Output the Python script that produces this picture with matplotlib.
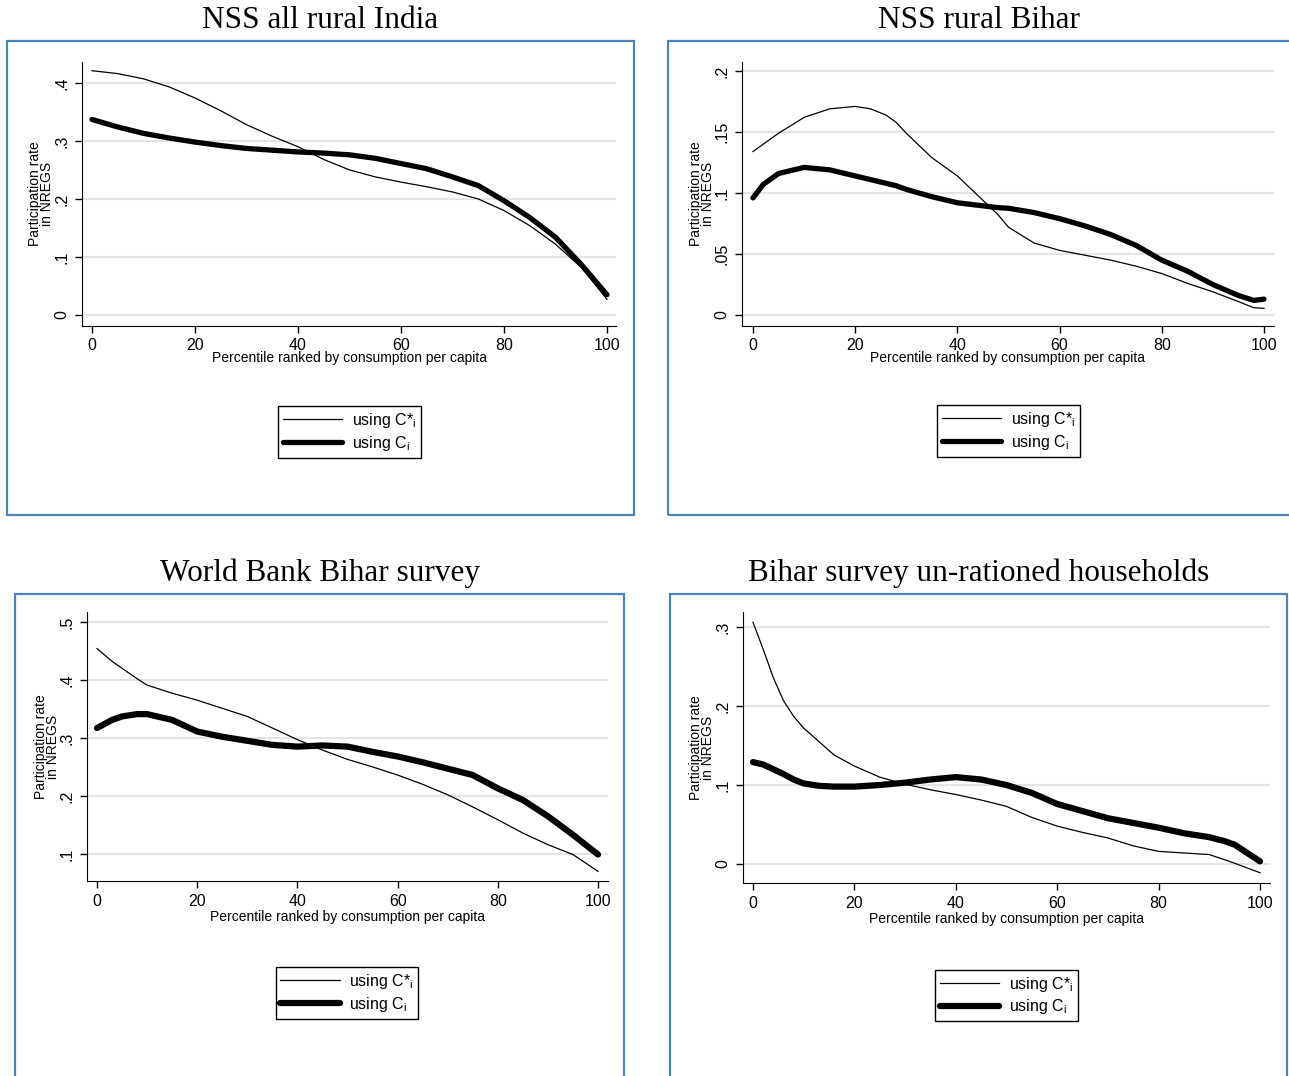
import matplotlib.pyplot as plt
from matplotlib.patches import Rectangle

# percentile grid and participation rates
pct_nss = [0, 5, 10, 15, 20, 25, 30, 35, 40, 45, 50, 55, 60, 65, 70, 75, 80, 85, 90, 95, 100]
nss_star = [0.421, 0.416, 0.407, 0.393, 0.374, 0.352, 0.328, 0.308, 0.290, 0.268, 0.250,
            0.238, 0.229, 0.221, 0.212, 0.200, 0.180, 0.154, 0.122, 0.082, 0.027]
nss_c = [0.337, 0.324, 0.313, 0.305, 0.298, 0.292, 0.287, 0.284, 0.281, 0.279, 0.276,
         0.270, 0.261, 0.252, 0.238, 0.223, 0.197, 0.168, 0.134, 0.087, 0.035]

pct_bihar = [0, 2, 5, 10, 15, 20, 23, 26, 28, 30, 35, 40, 44, 48, 50, 55, 60, 65, 70, 75,
             80, 85, 90, 95, 98, 100]
bihar_star = [0.134, 0.140, 0.149, 0.162, 0.169, 0.171, 0.169, 0.164, 0.158, 0.149, 0.129,
              0.114, 0.098, 0.082, 0.072, 0.059, 0.053, 0.049, 0.045, 0.040, 0.034, 0.026,
              0.019, 0.011, 0.006, 0.0055]
bihar_c = [0.096, 0.107, 0.116, 0.121, 0.119, 0.114, 0.111, 0.108, 0.106, 0.103, 0.097,
           0.092, 0.090, 0.088, 0.0875, 0.084, 0.079, 0.073, 0.066, 0.057, 0.045, 0.036,
           0.025, 0.016, 0.012, 0.013]

pct_wb = [0, 3, 5, 8, 10, 15, 20, 25, 30, 35, 40, 45, 50, 55, 60, 65, 70, 75, 80, 85, 90, 95, 100]
wb_star = [0.454, 0.432, 0.420, 0.402, 0.391, 0.377, 0.365, 0.351, 0.337, 0.317, 0.297,
           0.279, 0.263, 0.250, 0.236, 0.220, 0.202, 0.181, 0.159, 0.136, 0.116, 0.099, 0.070]
wb_c = [0.317, 0.331, 0.337, 0.341, 0.341, 0.331, 0.311, 0.302, 0.295, 0.288, 0.285,
        0.287, 0.285, 0.276, 0.268, 0.258, 0.247, 0.236, 0.213, 0.193, 0.165, 0.133, 0.099]

pct_unr = [0, 2, 4, 6, 8, 10, 13, 16, 20, 25, 30, 35, 40, 45, 50, 55, 60, 65, 70, 75, 80,
           85, 90, 93, 95, 100]
unr_star = [0.306, 0.272, 0.236, 0.207, 0.187, 0.172, 0.155, 0.138, 0.124, 0.110, 0.101,
            0.094, 0.088, 0.081, 0.073, 0.059, 0.048, 0.040, 0.033, 0.023, 0.016, 0.014,
            0.012, 0.0055, 0.001, -0.011]
unr_c = [0.129, 0.126, 0.120, 0.114, 0.107, 0.102, 0.099, 0.098, 0.098, 0.100, 0.103,
         0.107, 0.110, 0.107, 0.100, 0.090, 0.076, 0.067, 0.058, 0.052, 0.046, 0.039,
         0.034, 0.029, 0.0245, 0.0034]

titles = ["NSS all rural India", "NSS rural Bihar", "World Bank Bihar survey",
          "Bihar survey un-rationed households"]
xlab = "Percentile ranked by consumption per capita"
ylab = "Participation rate\nin NREGS"
lab_star = "using C*$_\\mathregular{i}$"
lab_c = "using C$_\\mathregular{i}$"

W, H = 1289, 1076
fig = plt.figure(figsize=(W / 100, H / 100), dpi=100)
plt.rcParams['font.family'] = 'Liberation Sans'


def box(l, t, r, b):
    fig.add_artist(Rectangle((l / W, 1 - b / H), (r - l) / W, (b - t) / H,
                             transform=fig.transFigure, fill=False,
                             ec='#4F81BD', lw=1.6))


def panel(rect, x, star, c, yt, ytl, xlim, ylim, ylab_x, xlab_y, leg_xy, thick):
    l, t, r, b = rect
    ax = fig.add_axes([l / W, 1 - b / H, (r - l) / W, (b - t) / H])
    ax.plot(x, star, color='black', lw=0.9, label=lab_star)
    ax.plot(x, c, color='black', lw=thick, solid_capstyle='round',
            solid_joinstyle='round', label=lab_c)
    ax.set_xlim(*xlim)
    ax.set_ylim(*ylim)
    ax.set_xticks([0, 20, 40, 60, 80, 100])
    ax.set_yticks(yt)
    ax.set_yticklabels(ytl, rotation=90, va='center')
    ax.tick_params(direction='out', length=5, width=1, labelsize=11.5, pad=4)
    for s in ['top', 'right']:
        ax.spines[s].set_visible(False)
    ax.yaxis.grid(True, color='#e4e4e4', lw=1.5)
    ax.set_axisbelow(True)
    ax.set_xlabel(xlab, fontsize=10)
    ax.xaxis.label.set_va('center')
    ax.xaxis.set_label_coords(0.5, -(xlab_y - b) / (b - t))
    ax.set_ylabel(ylab, fontsize=10, linespacing=0.9)
    ax.yaxis.label.set_va('center')
    ax.yaxis.set_label_coords((ylab_x - l) / (r - l), 0.5)
    leg = ax.legend(loc='center', bbox_to_anchor=(leg_xy[0] / W, 1 - leg_xy[1] / H),
                    bbox_transform=fig.transFigure, fontsize=11.5, frameon=True,
                    fancybox=False, edgecolor='black', framealpha=1,
                    handlelength=3.7, handletextpad=0.6, borderpad=0.3,
                    labelspacing=0.25)
    leg.get_frame().set_linewidth(1)
    return ax


box(7, 41, 634, 515)
box(668, 41, 1295, 515)
box(15, 594, 624, 1090)
box(670, 594, 1287, 1090)

panel((82, 62, 616, 326), pct_nss, nss_star, nss_c,
      [0, 0.1, 0.2, 0.3, 0.4], ['0', '.1', '.2', '.3', '.4'],
      (-1.94, 101.75), (-0.019, 0.436), 41, 358, (349.5, 432), 3.8)
panel((742, 62, 1274, 326), pct_bihar, bihar_star, bihar_c,
      [0, 0.05, 0.1, 0.15, 0.2], ['0', '.05', '.1', '.15', '.2'],
      (-2.15, 101.96), (-0.009, 0.2074), 702, 358.5, (1008.5, 431), 3.8)
panel((87, 612, 608, 881), pct_wb, wb_star, wb_c,
      [0.1, 0.2, 0.3, 0.4, 0.5], ['.1', '.2', '.3', '.4', '.5'],
      (-2.0, 101.99), (0.0534, 0.517), 47, 917, (347, 993), 4.5)
panel((743, 612, 1270, 883), pct_unr, unr_star, unr_c,
      [0, 0.1, 0.2, 0.3], ['0', '.1', '.2', '.3'],
      (-1.97, 101.97), (-0.024, 0.319), 702, 919, (1006.5, 995.5), 4.5)

for tx, ty, s in [(320, 28, titles[0]), (979, 28, titles[1]),
                  (320, 581, titles[2]), (979, 581, titles[3])]:
    fig.text(tx / W, 1 - ty / H, s, ha='center', va='baseline',
             family='Liberation Serif', fontsize=22.5)

fig.savefig('out.png', dpi=100)
